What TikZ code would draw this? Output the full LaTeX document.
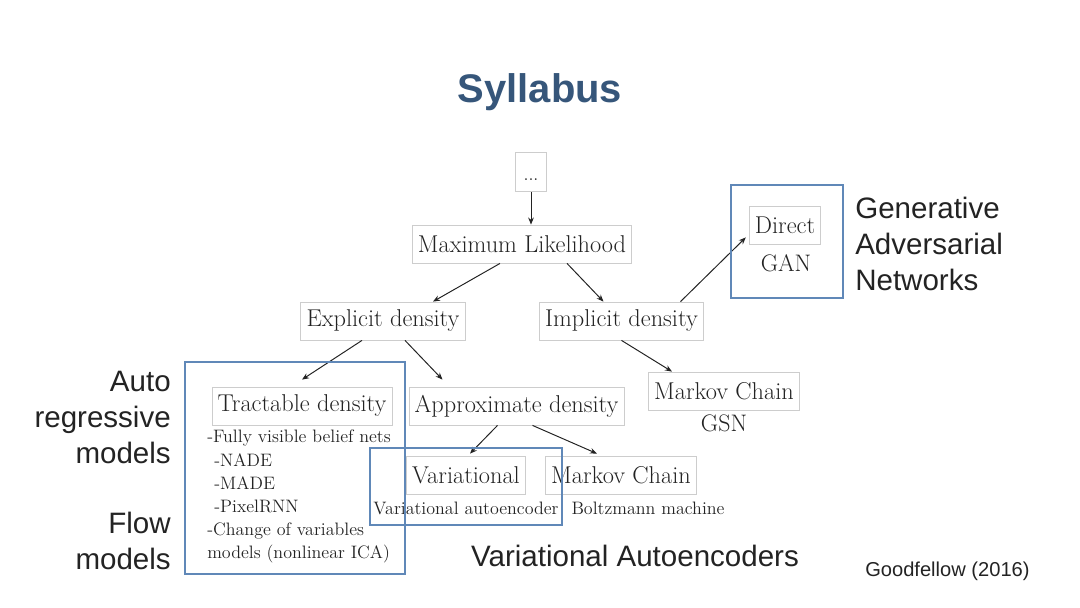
\documentclass[tikz,border=0pt]{standalone}
\usepackage{fontspec}
\setsansfont{Liberation Sans}
\usetikzlibrary{arrows.meta}
\usetikzlibrary{calc}
\definecolor{grpblue}{RGB}{96,136,184}
\definecolor{titleblue}{RGB}{54,86,122}
\definecolor{boxgray}{RGB}{205,205,205}
\definecolor{inkgray}{RGB}{35,35,35}

\begin{document}
\begin{tikzpicture}[x=0.025cm, y=-0.025cm,
  box/.style={draw=boxgray, line width=0.6pt, text=inkgray, inner xsep=4pt,
              inner ysep=0pt, minimum height=27pt, font=\fontsize{17.3}{20}\selectfont},
  caption/.style={text=inkgray, inner sep=0pt, font=\fontsize{17}{20}\selectfont},
  small/.style={text=inkgray, inner sep=0pt, font=\fontsize{12.8}{16.4}\selectfont},
  link/.style={-{Stealth[length=5pt,width=4pt]}, line width=0.7pt, draw=inkgray},
  group/.style={draw=grpblue, line width=1.8pt},
  side/.style={text=inkgray, inner sep=0pt, font=\sffamily\fontsize{21}{25.5}\selectfont}]

\useasboundingbox (0,0) rectangle (1080,607);

%---------------------------------------
% Title
%---------------------------------------
\node[text=titleblue, font=\sffamily\bfseries\fontsize{28.4}{34}\selectfont] (title) at (540,92) {Syllabus};

%---------------------------------------
% Tree of models
%---------------------------------------
\node[box, inner xsep=1pt, minimum width=22pt, minimum height=28pt,
      text height=12pt, text depth=0pt,
      font=\fontsize{13}{15}\selectfont] (top) at (531,172) {...};
\node[box] (ml) at (522,244) {Maximum Likelihood};

\node[box] (expl) at (383,321) {Explicit density};
\node[box] (impl) at (621.5,321) {Implicit density};

\node[box] (direct) at (785,225) {Direct};
\node[caption] (gan) at (786,263) {GAN};

\node[box] (tract) at (302,406) {Tractable density};
\node[box] (approx) at (516.5,406) {Approximate density};

\node[box] (mcr) at (724,391) {Markov Chain};
\node[caption] (gsn) at (724,423) {GSN};

\node[box] (var) at (466,475) {Variational};
\node[small] (vae) at (466,508) {Variational autoencoder};
\node[box] (mcb) at (621,475) {Markov Chain};
\node[small] (boltz) at (648,508) {Boltzmann machine};

% List under tractable density
\node[small, align=left, anchor=north west] (fvbn) at (207,430)
  {-Fully visible belief nets\\
   \hspace{5pt}-NADE\\
   \hspace{5pt}-MADE\\
   \hspace{5pt}-PixelRNN\\
   -Change of variables\\
   models (nonlinear ICA)};

%---------------------------------------
% Arrows
%---------------------------------------
\draw[link] (top.south) -- (top.south |- ml.north);
\draw[link] ($(ml.south)+(-22,0)$) -- ($(expl.north)+(50,0)$);
\draw[link] ($(ml.south)+(45,0)$) -- ($(impl.north)+(-18,0)$);
\draw[link] ($(expl.south)+(-21,0)$) -- ($(tract.north)+(0,-7)$);
\draw[link] ($(expl.south)+(22,0)$) -- ($(approx.north)+(-74,-7)$);
\draw[link] ($(impl.north)+(59,0)$) -- ($(direct.south west)+(-3,-7)$);
\draw[link] (impl.south) -- ($(mcr.north)+(-52,0)$);
\draw[link] ($(approx.south)+(-19,0)$) -- ($(var.north)+(4,-2)$);
\draw[link] ($(approx.south)+(16,0)$) -- ($(mcb.north)+(-24,-2)$);

%---------------------------------------
% Groups and their names
%---------------------------------------
\draw[group] (185,362) rectangle (405,574);
\draw[group] (370,448) rectangle (562,525);
\draw[group] (731,185) rectangle (843,298);

\node[side, align=left, anchor=north west] (gannames) at (855,197)
  {Generative\\Adversarial\\Networks};
\node[side, align=right, anchor=north east] (arnames) at (171,371)
  {Auto\\regressive\\models};
\node[side, align=right, anchor=north east] (flownames) at (171,512)
  {Flow\\models};
\node[side] (vaenames) at (635,556) {Variational Autoencoders};
\node[text=inkgray, inner sep=0pt, anchor=west, font=\sffamily\fontsize{14.3}{17}\selectfont]
  (cite) at (865,571) {Goodfellow (2016)};

\end{tikzpicture}
\end{document}
